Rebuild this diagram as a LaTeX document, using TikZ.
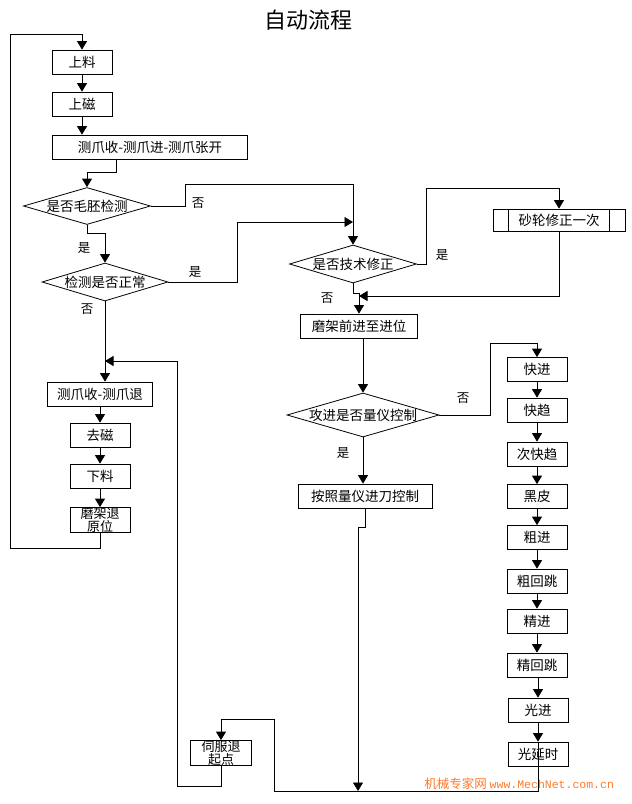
\documentclass[tikz,border=0pt]{standalone}
\usepackage{fontspec}
\setmainfont{Noto Sans CJK SC}
\newfontfamily\webfont{Liberation Mono}
\usetikzlibrary{shapes.geometric,arrows.meta}
\definecolor{markorange}{RGB}{255,120,40}
\newcommand{\dtxt}[1]{\makebox[0pt]{#1}}

\begin{document}
\begin{tikzpicture}[x=1pt,y=1pt,yscale=-1,line width=0.8pt,
  every node/.style={font=\fontsize{13.5}{15}\selectfont},
  box/.style={draw,minimum width=60,minimum height=24,inner sep=1pt},
  dia/.style 2 args={draw,shape=diamond,minimum width=#1,minimum height=#2,inner sep=0pt},
  twoline/.style={align=center,inner sep=0pt,font=\fontsize{13}{13.5}\selectfont},
  lab/.style={font=\fontsize{12.5}{14}\selectfont},
  arr/.style={-{Triangle[length=8.5pt,width=10pt]}}]
\useasboundingbox (0,0) rectangle (632,804);

% Title
\node[font=\fontsize{22}{24}\selectfont] (title) at (308,20) {自动流程};

%Shape: Rectangle -- left column
\node[box] (n1) at (82,62) {上料};
\node[box] (n2) at (82,104) {上磁};
\node[box,minimum width=195] (n3) at (150,147) {测爪收-测爪进-测爪张开};
%Shape: Diamond
\node[dia={127}{37}] (d1) at (87,206) {\dtxt{是否毛胚检测}};
\node[dia={126}{38}] (d2) at (105,282) {\dtxt{检测是否正常}};
\node[box,minimum width=105] (n4) at (100,394) {测爪收-测爪退};
\node[box] (n5) at (100,435) {去磁};
\node[box] (n6) at (100,476) {下料};
\node[box,minimum height=25,label={[twoline]center:{磨架退\\原位}}] (n7) at (100,520) {};

%Shape: Rectangle -- middle column
\node[dia={127}{38}] (d3) at (353,264) {\dtxt{是否技术修正}};
\node[box,minimum width=132,minimum height=22] (sl) at (559,220) {砂轮修正一次};
\draw ([xshift=16pt]sl.north west) -- ([xshift=16pt]sl.south west);
\draw ([xshift=-16pt]sl.north east) -- ([xshift=-16pt]sl.south east);
\node[box,minimum width=117] (n8) at (359,326) {磨架前进至进位};
\node[dia={152}{44}] (d4) at (363,415) {\dtxt{攻进是否量仪控制}};
\node[box,minimum width=134] (n9) at (365,496) {按照量仪进刀控制};
\node[box,minimum width=61,minimum height=25,label={[twoline]center:{伺服退\\起点}}] (sv) at (221,753) {};

%Shape: Rectangle -- right column
\node[box] (r1) at (537,369.5) {快进};
\node[box] (r2) at (537,410) {快趋};
\node[box] (r3) at (537,454) {次快趋};
\node[box] (r4) at (537,496.5) {黑皮};
\node[box] (r5) at (537,537.5) {粗进};
\node[box] (r6) at (537,581) {粗回跳};
\node[box] (r7) at (537,621) {精进};
\node[box] (r8) at (537,665) {精回跳};
\node[box] (r9) at (538,710) {光进};
\node[box] (r10) at (538,754) {光延时};

% bends
\coordinate (c1) at (185,184);
\coordinate (c2) at (237,222);
\coordinate (c3) at (116,172);
\coordinate (c4) at (426,188);
\coordinate (c5) at (359,296);
\coordinate (c6) at (490,343);
\coordinate (c7) at (358,527);
\coordinate (cb) at (358,791);
\coordinate (c8) at (274,719);
\coordinate (c9) at (177,786);
\coordinate (c10) at (177,361);
\coordinate (c11) at (10,548);
\coordinate (c12) at (10,34);

%Straight Lines -- left column
\draw[arr] (n1) -- (n2);
\draw[arr] (n2.south) -- (n2.south |- n3.north);
\draw[arr] (c3 |- n3.south) -- (c3) -| (d1.north);
\draw[arr] (d1.south) -- ++(0,8) -| (d2.north);
\draw[arr] (d1.east) -| (c1) -| (d3.north);
\draw[arr] (d2.east) -| (c2) -- (c2 -| d3.north);
\draw[arr] (d2.south) -- (d2.south |- n4.north);
\draw[arr] (n4.south -| n5.north) -- (n5.north);
\draw[arr] (n5) -- (n6);
\draw[arr] (n6) -- (n7);
\draw[arr] (n7.south) |- (c11) -- (c12) -| (n1.north);

%Straight Lines -- middle column
\draw[arr] (d3.east) -| (c4) -| (sl.north);
\draw[arr] (sl.south) |- (c5);
\draw[arr] (d3.south) -- ++(0,10) -| (n8.north);
\draw[arr] (n8.south -| d4.north) -- (d4.north);
\draw[arr] (d4.south) -- (d4.south |- n9.north);
\draw[arr] (d4.east) -| (c6) -| (r1.north);
\draw[arr] (n9.south) -- (n9.south |- c7) -- (c7) -- (cb);
\draw[arr] (r10.north) -- (r10.north |- cb) -| (c8) -| (sv.north);
\draw[arr] (sv.south) |- (c9) -- (c10) -- (c10 -| d2.south);

%Straight Lines -- right column
\draw[arr] (r1) -- (r2);
\draw[arr] (r2) -- (r3);
\draw[arr] (r3) -- (r4);
\draw[arr] (r4) -- (r5);
\draw[arr] (r5) -- (r6);
\draw[arr] (r6) -- (r7);
\draw[arr] (r7) -- (r8);
\draw[arr] (r8.south -| r9.north) -- (r9.north);
\draw[arr] (r9) -- (r10);

% Text Node
\node[lab] (l1) at (198,203) {否};
\node[lab] (l2) at (84,248) {是};
\node[lab] (l3) at (195,272) {是};
\node[lab] (l4) at (87,309) {否};
\node[lab] (l5) at (442,255) {是};
\node[lab] (l6) at (327,298) {否};
\node[lab] (l7) at (463,398) {否};
\node[lab] (l8) at (343,453) {是};
% Text Node
\node[anchor=west,inner sep=0pt,text=markorange,font=\fontsize{12.5}{14}\selectfont] (mark) at (424,784)
  {机械专家网\ {\webfont\fontsize{11.5}{13}\selectfont www.MechNet.com.cn}};
\end{tikzpicture}
\end{document}
